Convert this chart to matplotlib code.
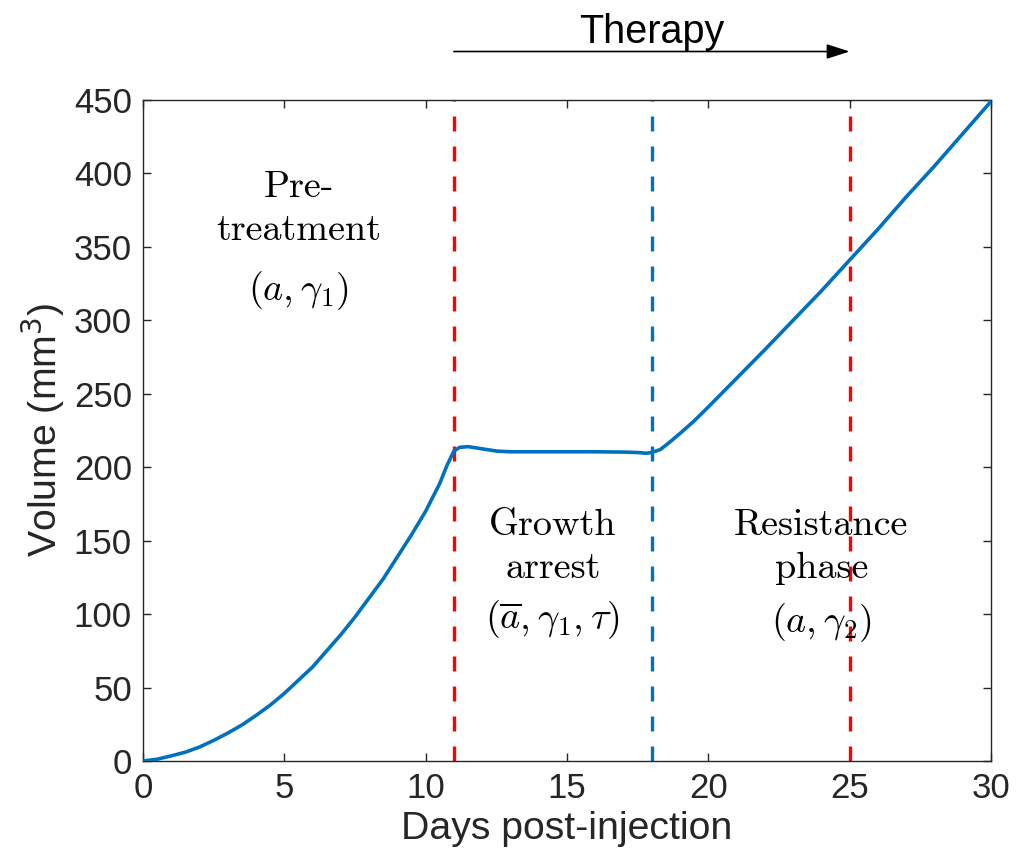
import numpy as np
import matplotlib
matplotlib.use("Agg")
import matplotlib.pyplot as plt

plt.rcParams['font.family'] = ['Liberation Sans', 'DejaVu Sans']
plt.rcParams['mathtext.fontset'] = 'cm'

# tumour volume
days = [0, 0.5, 1, 1.5, 2, 2.5, 3, 3.5, 4, 4.5, 5, 5.5, 6, 6.5, 7, 7.5, 8, 8.5,
        9, 9.5, 10, 10.5, 10.75, 11, 11.2, 11.5, 12, 12.5, 13, 14, 16, 17, 17.5,
        17.8, 18, 18.3, 18.6, 19, 19.5, 20, 21, 22, 23, 24, 25, 26, 27, 28, 29, 30]
volume = [0, 1.2, 3.5, 6, 9.5, 14, 19, 24.5, 31, 38, 46, 55, 64, 75, 86, 98, 111, 124,
          139, 154, 170, 189, 201, 211, 213.5, 214, 212.5, 211, 210.5, 210.5, 210.5,
          210.3, 210, 209.5, 210, 212, 216.5, 223, 231.5, 241, 260.5, 280, 300, 320,
          341, 362, 384, 405, 427, 449]

phase_days = [11, 18, 25]
phase_colors = ['#FF0000', '#0072BD', '#FF0000']

blue = '#0072BD'
grey = '#262626'

fig = plt.figure(figsize=(10.17, 8.56), dpi=100)
ax = fig.add_axes([0.1406, 0.1110, 0.8338, 0.7722])

for d, c in zip(phase_days, phase_colors):
    ax.axvline(d, color=c, lw=2.4, dashes=(4.5, 4.5), zorder=2)

ax.plot(days, volume, color=blue, lw=2.6, zorder=3, solid_joinstyle='round')

ax.set_xlim(0, 30)
ax.set_ylim(0, 450)
ax.set_xticks(np.arange(0, 31, 5))
ax.set_yticks(np.arange(0, 451, 50))
ax.tick_params(direction='in', length=6, width=1, top=True, right=True,
               labelsize=25, colors=grey, pad=8)
for s in ax.spines.values():
    s.set_color(grey)
    s.set_linewidth(1)

ax.set_xlabel('Days post-injection', fontsize=28.3, color=grey, labelpad=4)
ax.set_ylabel('Volume (mm$^3$)', fontsize=28.3, color=grey, labelpad=5)
ax.yaxis.label.set_math_fontfamily('dejavusans')

# phase annotations
rm = dict(family='cmr10', fontsize=27.5, ha='center', va='baseline', zorder=5)
mt = dict(fontsize=27.5, ha='center', va='baseline', zorder=5)
ax.text(5.5, 384, 'Pre-', **rm)
ax.text(5.5, 355, 'treatment', **rm)
ax.text(5.5, 314, r'$(a, \gamma_1)$', **mt)

ax.text(14.5, 154, 'Growth', **rm)
ax.text(14.5, 124.5, 'arrest', **rm)
ax.text(14.5, 90, r'$(\overline{a}, \gamma_1, \tau)$', **mt)

ax.text(24.0, 154, 'Resistance', **rm)
ax.text(24.0, 124.5, 'phase', **rm)
ax.text(24.0, 88, r'$(a, \gamma_2)$', **mt)

# therapy arrow above the axes
ax.annotate('', xy=(25, 483), xytext=(11, 483), annotation_clip=False,
            arrowprops=dict(arrowstyle='-|>,head_length=1.4,head_width=0.45',
                            color='black', lw=1.2, shrinkA=0, shrinkB=0,
                            mutation_scale=10))
ax.text(18, 489, 'Therapy', fontsize=28.5, ha='center', va='baseline',
        clip_on=False)

fig.savefig('out.png', dpi=100)
